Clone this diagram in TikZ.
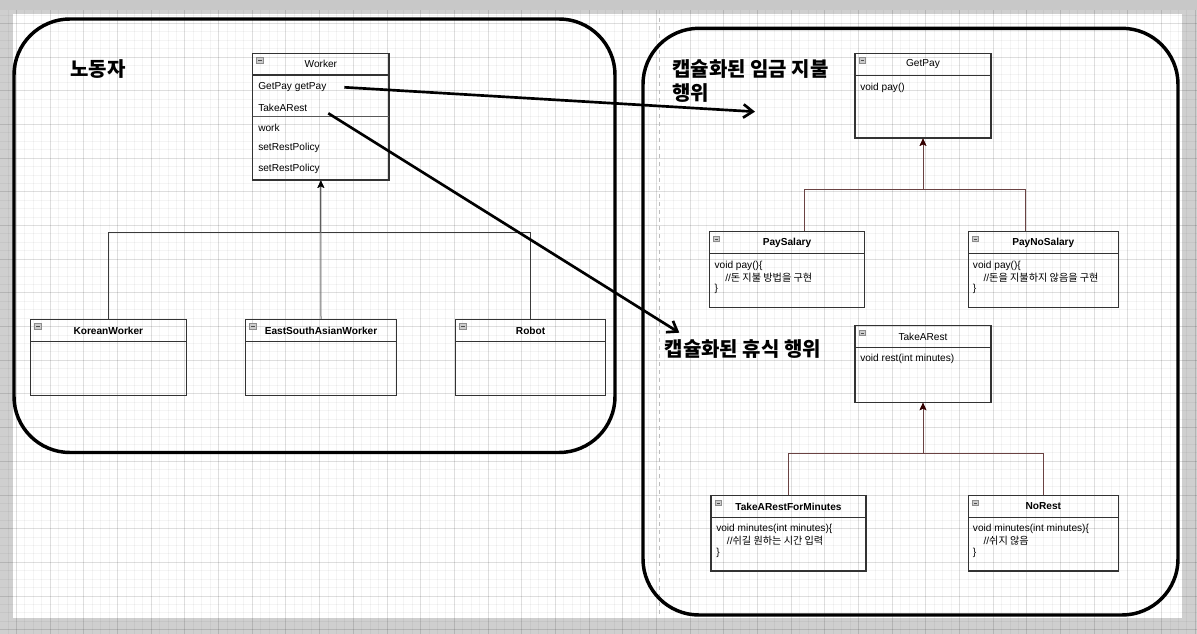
\documentclass[tikz,border=0pt]{standalone}
\usepackage{fontspec}
\setmainfont{Liberation Sans}
\newfontfamily\kr{Noto Sans CJK KR}
\usetikzlibrary{arrows.meta,fit,calc}

\definecolor{boxline}{HTML}{333333}
\definecolor{pagegray}{HTML}{CFCFCF}
\definecolor{topgray}{HTML}{C8C8C8}
\definecolor{brownline}{HTML}{6A4242}
\definecolor{browntip}{HTML}{330000}
\definecolor{leftline}{HTML}{3A3A3A}
\definecolor{midline}{HTML}{707070}
\definecolor{breakgray}{HTML}{BDBDBD}

\tikzset{
  smalltxt/.style={font=\fontsize{7.6}{9}\selectfont, inner sep=0pt},
  rowtext/.style={smalltxt, anchor=west},
  titleplain/.style={smalltxt},
  titlebold/.style={inner sep=0pt, font=\fontsize{7.6}{9}\selectfont\bfseries},
  classbox/.style={draw=boxline, line width=0.8pt, inner sep=0pt},
  umlicon/.style={draw=gray!90, fill=gray!40, line width=0.5pt},
  bigbox/.style={draw=black, line width=2.6pt, rounded corners=42pt, inner sep=0pt},
  bigarrow/.style={draw=black, line width=2pt, -{Straight Barb[length=7pt,width=10pt]}},
  inhL/.style={draw=leftline, line width=0.75pt, -{Stealth[length=5.5pt,width=5pt,inset=1.2pt]}},
  inhLc/.style={draw=midline, line width=0.75pt, -{Stealth[length=5.5pt,width=5pt,inset=1.2pt,color=black]}},
  inhR/.style={draw=brownline, line width=0.75pt, -{Stealth[length=5.5pt,width=5pt,inset=1.2pt,color=browntip]}},
  biglabel/.style={font=\kr\fontsize{15}{18}\selectfont\bfseries, inner sep=0pt, anchor=west, align=left},
  gridminor/.style={draw=black, opacity=0.045, line width=0.75pt},
  gridmajor/.style={draw=black, opacity=0.085, line width=0.75pt},
  pagebreak/.style={draw=breakgray, line width=0.75pt, dash pattern=on 3pt off 3pt},
}

% name, x1, y1, x2, y2, header-bottom y, title, title style
\newcommand\umlclass[8]{%
  \node[classbox, fit={(#2,#3) (#4,#5)}] (#1) {};
  \draw[boxline, line width=0.8pt] (#2,#6) -- (#4,#6);
  \node[#8] (#1-title) at ({(#2+#4)/2},{(#3+#6)/2}) {#7};
  \draw[umlicon] ({#2+4},{#3+4.5}) rectangle ({#2+10.5},{#3+10});
  \draw[black!70, line width=0.6pt] ({#2+5.5},{#3+7.25}) -- ({#2+9},{#3+7.25});
}

\begin{document}
\begin{tikzpicture}[x=0.75pt,y=-0.75pt]
\useasboundingbox (0,0) rectangle (1197,634);
% page background
\fill[pagegray] (0,0) rectangle (1197,634);
\fill[white] (13,14) rectangle (1182,618);
\fill[topgray] (0,0) rectangle (1197,10);
\begin{scope}
  \clip (0,10) rectangle (1197,634);
  \foreach \i in {0,...,142} {\draw[gridminor] ({16.54+(\i-1)*8.42},10) -- ({16.54+(\i-1)*8.42},634);}
  \foreach \j in {-1,...,76} {\draw[gridminor] (0,{23.5+(\j-1)*8.42}) -- (1197,{23.5+(\j-1)*8.42});}
  \foreach \i in {0,...,36} {\draw[gridmajor] ({16.54+(\i-1)*33.68},10) -- ({16.54+(\i-1)*33.68},634);}
  \foreach \j in {0,...,19} {\draw[gridmajor] (0,{23.5+(\j-1)*33.68}) -- (1197,{23.5+(\j-1)*33.68});}
\end{scope}
\draw[pagebreak] (659.3,10) -- (659.3,618);

% group boxes
\node[bigbox, fit={(14,19) (615,452.5)}] (leftGroup) {};
\node[bigbox, fit={(643,28.3) (1178,615)}] (rightGroup) {};

% labels
\node[biglabel] (lblWorker) at (70,69) {노동자};
\node[biglabel] (lblPay) at (672,81) {캡슐화된 임금 지불\\행위};
\node[biglabel] (lblRest) at (664.5,349.3) {캡슐화된 휴식 행위};

% Worker
\umlclass{Worker}{252.7}{53.3}{389}{180}{75}{Worker}{titleplain}
\node[rowtext] (w1) at (258,87.5) {GetPay getPay};
\node[rowtext] (w2) at (258,107.5) {TakeARest};
\draw[black!65, line width=1pt] (252.7,116.7) -- (389,116.7);
\node[rowtext] (w3) at (258,127.5) {work};
\node[rowtext] (w4) at (258,148) {setRestPolicy};
\node[rowtext] (w5) at (258,168.5) {setRestPolicy};

\umlclass{Korean}{30.6}{319.3}{186.1}{395.7}{341.7}{KoreanWorker}{titlebold}
\umlclass{ESA}{245.7}{319.3}{396.3}{395.7}{341.7}{EastSouthAsianWorker}{titlebold}
\umlclass{Robot}{455.5}{319.3}{605.7}{395.7}{341.7}{Robot}{titlebold}

% GetPay family
\umlclass{GetPay}{855}{53.3}{991}{138}{75.3}{GetPay}{titleplain}
\node[rowtext] (gp1) at (860,87.5) {void pay()};
\umlclass{PaySalary}{709.3}{231.7}{864.7}{307.7}{253.3}{PaySalary}{titlebold}
\node[rowtext] (ps1) at (714.3,266) {void pay()\{};
\node[rowtext] (ps2) at (725,277.7) {//{\kr 돈 지불 방법을 구현}};
\node[rowtext] (ps3) at (714.3,289.3) {\}};
\umlclass{PayNoSalary}{968.3}{231.7}{1118.3}{307.7}{253.3}{PayNoSalary}{titlebold}
\node[rowtext] (pn1) at (972.7,266) {void pay()\{};
\node[rowtext] (pn2) at (983.3,277.7) {//{\kr 돈을 지불하지 않음을 구현}};
\node[rowtext] (pn3) at (972.7,289.3) {\}};

% TakeARest family
\umlclass{TakeARest}{855}{325.7}{991}{402.3}{347.3}{TakeARest}{titleplain}
\node[rowtext] (tr1) at (860,359.3) {void rest(int minutes)};
\umlclass{TARFM}{711}{495.7}{866}{571}{517.3}{TakeARestForMinutes}{titlebold}
\node[rowtext] (tm1) at (716,529) {void minutes(int minutes)\{};
\node[rowtext] (tm2) at (726.7,540.7) {//{\kr 쉬길 원하는 시간 입력}};
\node[rowtext] (tm3) at (716,552.7) {\}};
\umlclass{NoRest}{968.3}{495.7}{1118.3}{571}{517.3}{NoRest}{titlebold}
\node[rowtext] (nr1) at (972.7,529) {void minutes(int minutes)\{};
\node[rowtext] (nr2) at (983.3,540.7) {//{\kr 쉬지 않음}};
\node[rowtext] (nr3) at (972.7,552.7) {\}};

% inheritance, left
\draw[inhL] (Korean.north) |- ($(Worker.south)+(0,51.7)$) -- (Worker.south);
\draw[inhL] (Robot.north) |- ($(Worker.south)+(0,51.7)$) -- (Worker.south);
\draw[inhLc] (ESA.north) -- (Worker.south);

% inheritance, right
\coordinate (psTop) at ($(PaySalary.north)+(17,0)$);
\coordinate (pnsTop) at ($(PayNoSalary.north)+(-18.3,0)$);
\draw[inhR] (psTop) |- ($(GetPay.south)+(0,51)$) -- (GetPay.south);
\draw[inhR] (pnsTop) |- ($(GetPay.south)+(0,51)$) -- (GetPay.south);
\draw[inhR] (TARFM.north) |- ($(TakeARest.south)+(0,50.7)$) -- (TakeARest.south);
\draw[inhR] (NoRest.north) |- ($(TakeARest.south)+(0,50.7)$) -- (TakeARest.south);

% big arrows
\coordinate (gpFrom) at (344.3,87.3);
\coordinate (payTip) at (755,111.7);
\coordinate (restFrom) at (328.3,113.3);
\coordinate (restTip) at (679.3,332.7);
\draw[bigarrow] (gpFrom) -- (payTip);
\draw[bigarrow] (restFrom) -- (restTip);
\end{tikzpicture}
\end{document}
